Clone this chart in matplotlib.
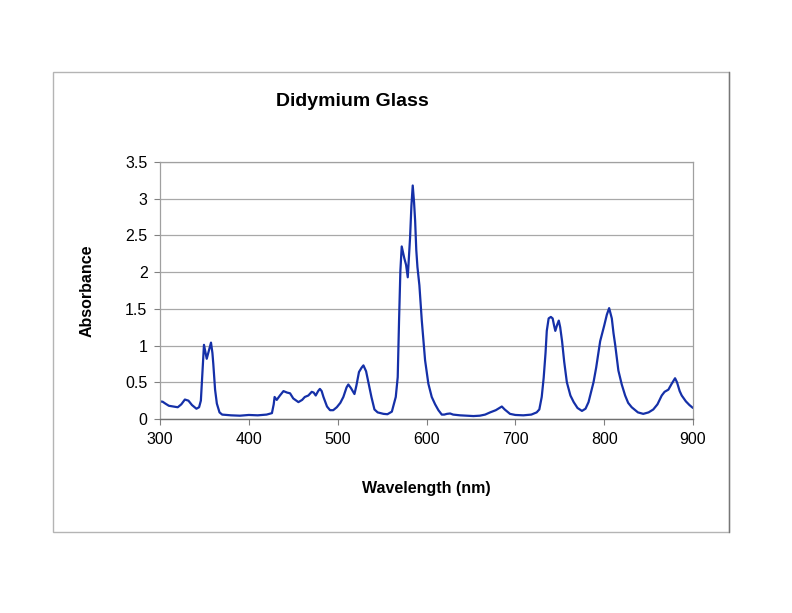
import matplotlib
matplotlib.use("Agg")
import matplotlib.pyplot as plt
from matplotlib.patches import Rectangle
from matplotlib.lines import Line2D

# ─────────────────────────────────────────────
# DATA
# ─────────────────────────────────────────────
wavelength = [
    300, 303, 306, 310, 315, 320, 324, 328, 332, 336, 341, 344, 346, 348, 349.5,
    351, 352.6, 355, 357.4, 359, 360, 362, 364, 367, 370, 380, 390, 400, 410,
    420, 426, 428, 429, 431.4, 435, 439, 443, 446.4, 450, 455.8, 460, 463, 467,
    470.8, 473, 475.3, 478, 480, 482, 484, 488, 491.4, 495, 499, 503, 506.4,
    510, 512, 515, 518.9, 521, 524, 527, 529, 532, 534.6, 538, 541.4, 545,
    551.6, 556, 561, 565.4, 567.6, 569.1, 570.6, 572.1, 573, 575, 577, 578.9,
    580, 581.5, 583, 584.5, 586, 587.2, 588.5, 589.8, 592, 594.7, 598.4, 602.1,
    605.9, 609.7, 613.4, 617.2, 620, 623, 626.6, 630, 637.8, 645, 652.8, 660,
    666, 671.6, 678, 682, 684.8, 688, 694, 700, 709, 718, 724, 727, 729.7,
    731.9, 734, 735.4, 737.5, 740, 742, 743.5, 745, 747, 748.9, 750.5, 752.6,
    755, 758, 762, 765.7, 770, 775, 779, 782.4, 788, 791, 795.5, 800, 803,
    805.6, 808.6, 810.5, 812.4, 816, 819.8, 823.6, 827, 831, 838, 844, 850,
    855.3, 860, 864.8, 868, 872.3, 876, 879.8, 882, 885, 887.3, 892, 896, 900,
]
absorbance = [
    0.24, 0.235, 0.21, 0.18, 0.17, 0.16, 0.20, 0.265, 0.25, 0.19, 0.14, 0.16,
    0.25, 0.70, 1.01, 0.92, 0.82, 0.93, 1.04, 0.90, 0.75, 0.40, 0.21, 0.09,
    0.06, 0.05, 0.045, 0.055, 0.05, 0.06, 0.08, 0.20, 0.30, 0.26, 0.32, 0.38,
    0.36, 0.35, 0.28, 0.23, 0.26, 0.30, 0.32, 0.37, 0.36, 0.32, 0.38, 0.41,
    0.38, 0.30, 0.17, 0.12, 0.12, 0.16, 0.22, 0.30, 0.43, 0.47, 0.42, 0.34,
    0.45, 0.64, 0.70, 0.73, 0.65, 0.50, 0.30, 0.13, 0.09, 0.07, 0.065, 0.10,
    0.30, 0.57, 1.34, 2.02, 2.35, 2.30, 2.19, 2.10, 1.93, 2.15, 2.47, 2.90,
    3.18, 2.95, 2.70, 2.30, 2.07, 1.82, 1.34, 0.80, 0.48, 0.30, 0.20, 0.12,
    0.06, 0.06, 0.07, 0.075, 0.06, 0.05, 0.045, 0.04, 0.045, 0.06, 0.09, 0.12,
    0.15, 0.17, 0.13, 0.07, 0.055, 0.05, 0.06, 0.09, 0.13, 0.30, 0.56, 0.90,
    1.20, 1.37, 1.39, 1.37, 1.28, 1.20, 1.28, 1.34, 1.25, 1.06, 0.78, 0.50,
    0.32, 0.23, 0.15, 0.11, 0.14, 0.23, 0.50, 0.70, 1.06, 1.27, 1.42, 1.51,
    1.37, 1.17, 1.01, 0.66, 0.47, 0.32, 0.22, 0.16, 0.09, 0.07, 0.09, 0.13,
    0.20, 0.32, 0.37, 0.40, 0.48, 0.555, 0.50, 0.38, 0.32, 0.24, 0.19, 0.15,
]
x_ticks = [300, 400, 500, 600, 700, 800, 900]
y_ticks = [0, 0.5, 1, 1.5, 2, 2.5, 3, 3.5]

W, H = 792, 613
plt.rcParams["font.family"] = ["Liberation Sans", "DejaVu Sans"]

fig = plt.figure(figsize=(W / 100, H / 100), dpi=100)
fig.patch.set_facecolor("white")

# outer chart-area border (Excel style)
fig.patches.append(Rectangle((53 / W, 1 - 532 / H), (729 - 53) / W, (532 - 72) / H,
                             transform=fig.transFigure, fill=False,
                             edgecolor="#b4b4b4", linewidth=1.0))
fig.lines.append(Line2D([729 / W, 729 / W], [1 - 532 / H, 1 - 72 / H],
                        transform=fig.transFigure, color="#777777", linewidth=1.0))

ax = fig.add_axes([160 / W, 1 - 419 / H, (693 - 160) / W, (419 - 162) / H])
ax.plot(wavelength, absorbance, color="#1530a8", linewidth=1.6,
        solid_joinstyle="round", solid_capstyle="round")

ax.set_xlim(300, 900)
ax.set_ylim(0, 3.5)
ax.set_xticks(x_ticks)
ax.set_yticks(y_ticks)
ax.set_xticklabels([str(v) for v in x_ticks])
ax.set_yticklabels([f"{v:g}" for v in y_ticks])
ax.tick_params(axis="both", direction="out", length=4, width=0.8,
               color="#808080", labelsize=11.5, pad=5)

ax.yaxis.grid(True, color="#a8a8a8", linewidth=0.9)
ax.set_axisbelow(True)
for side in ["top", "right", "left"]:
    ax.spines[side].set_color("#a0a0a0")
    ax.spines[side].set_linewidth(0.9)
ax.spines["bottom"].set_color("#707070")
ax.spines["bottom"].set_linewidth(1.0)

ax.set_xlabel("Wavelength (nm)", fontsize=11.5, fontweight="bold", labelpad=25)
ax.set_ylabel("Absorbance", fontsize=11.5, fontweight="bold", labelpad=22)

fig.text(352 / W, 1 - 102 / H, "Didymium Glass", fontsize=14, fontweight="bold",
         ha="center", va="center")

plt.savefig("out.png", dpi=100)
